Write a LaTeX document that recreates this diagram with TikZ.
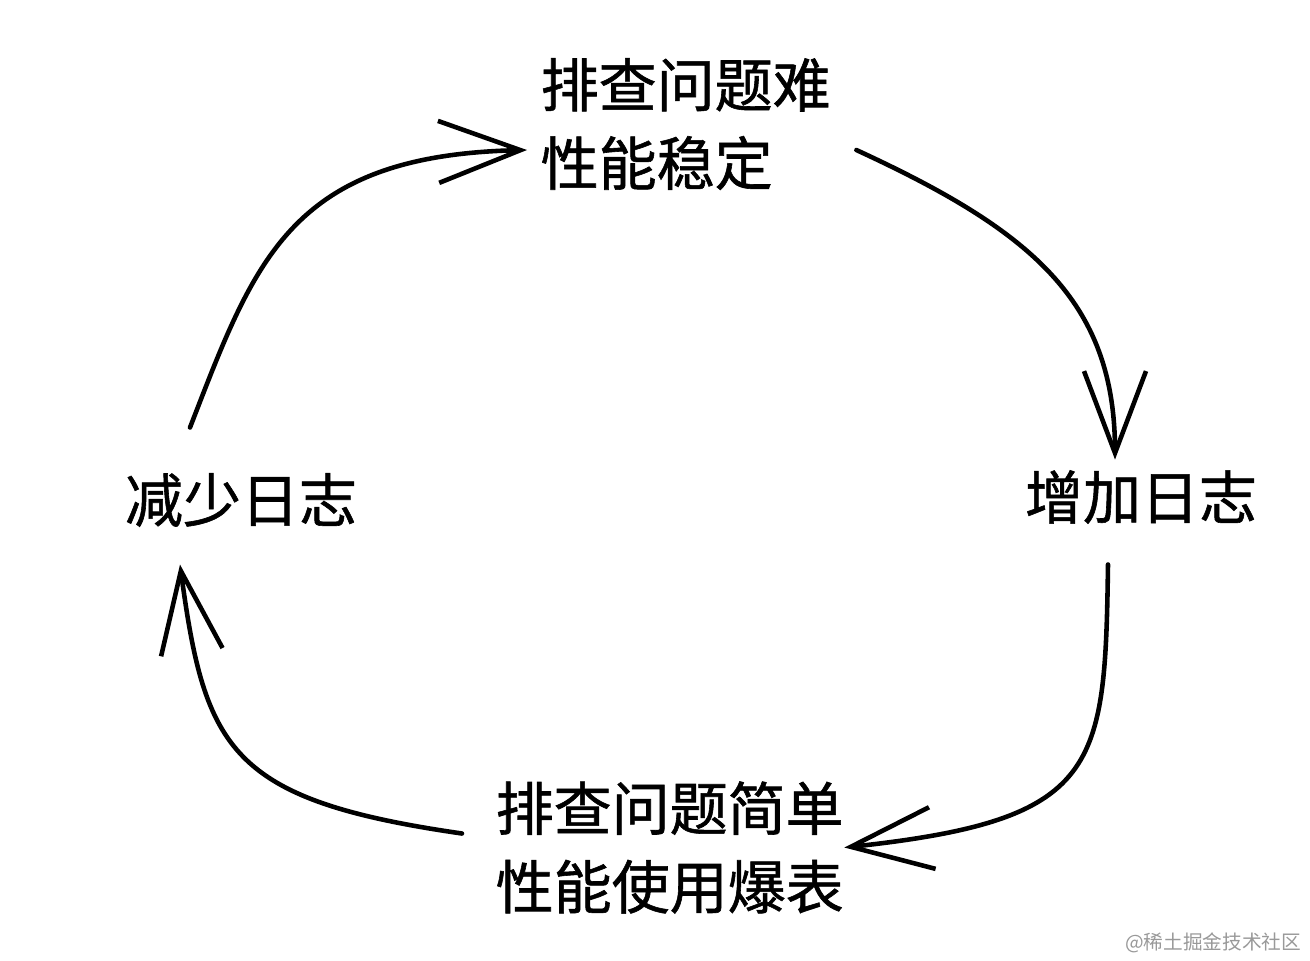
\documentclass[tikz,border=0pt]{standalone}
\usepackage{fontspec}
\newfontfamily\cjk[FakeBold=1]{Noto Sans CJK SC}
\newfontfamily\cjkwm{Noto Sans CJK SC}
\usetikzlibrary{arrows.meta}
\tikzset{
lbl/.style={inner sep=0pt,font=\cjk\fontsize{16.5}{22.3}\selectfont,align=left},
arr/.style={line width=1.3pt,line cap=round,-{Straight Barb[length=8.2mm,width=6.2mm,line width=1.3pt]}},
mark wm/.style={inner sep=0pt,anchor=east,text=black!40,font=\cjkwm\fontsize{5.6}{6}\selectfont}
}
\begin{document}
\begin{tikzpicture}
\useasboundingbox (0,0) rectangle (13.1,-9.6);
\node[lbl,anchor=west] (hard) at (5.40,-1.24) {排查问题难\\性能稳定};
\node[lbl] (more) at (11.41,-4.97) {增加日志};
\node[lbl] (less) at (2.41,-5.00) {减少日志};
\node[lbl,anchor=west] (easy) at (4.95,-8.475) {排查问题简单\\性能使用爆表};
\draw[arr] ([shift={(-0.51,0.45)}]less.north) .. controls (2.55,-2.6) and (2.9,-1.55) .. ([shift={(-0.13,-0.26)}]hard.west);
\draw[arr] ([shift={(0.25,-0.26)}]hard.east) .. controls (10.3,-2.3) and (11.15,-3.0) .. ([shift={(-0.26,0.10)}]more.north);
\draw[arr] ([shift={(-0.33,-0.40)}]more.south) .. controls (11.05,-7.7) and (11.0,-8.2) .. ([shift={(0.0,0.0)}]easy.east);
\draw[arr] ([shift={(-0.33,0.14)}]easy.west) .. controls (2.3,-8.0) and (2.05,-7.5) .. ([shift={(-0.61,-0.37)}]less.south);
\node[mark wm] (wm) at (13.02,-9.43) {@稀土掘金技术社区};
\end{tikzpicture}
\end{document}
